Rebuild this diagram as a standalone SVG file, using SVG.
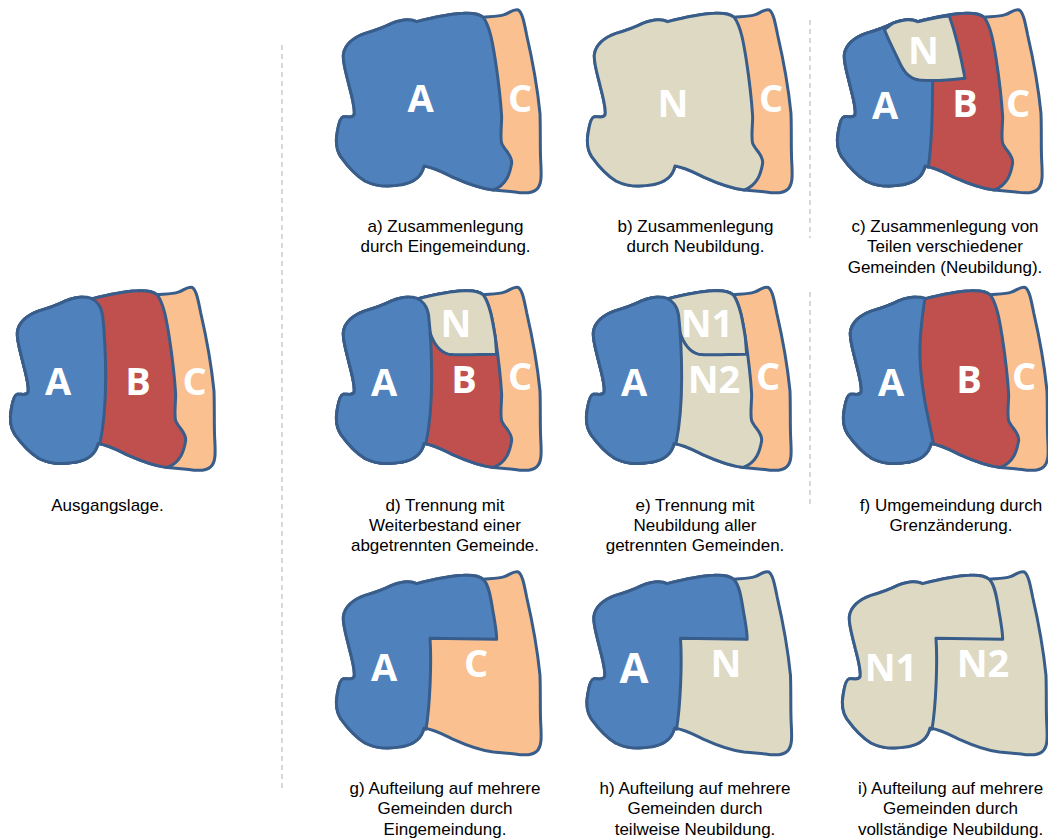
<svg xmlns="http://www.w3.org/2000/svg" xmlns:xlink="http://www.w3.org/1999/xlink" width="1048" height="838" viewBox="0 0 1048 838">
<style>
.o{stroke:#385D8A;stroke-width:9;stroke-linejoin:round;stroke-linecap:round}
.A{fill:#4F81BD}.B{fill:#C0504D}.C{fill:#FAC090}.N{fill:#DDD9C3}
.l{font-family:"Open Sans","DejaVu Sans",sans-serif;font-weight:700;font-size:38px;fill:#fff;text-anchor:middle}
.c{font-family:"Liberation Sans",Arial,sans-serif;font-size:17px;fill:#000;text-anchor:middle}
.d{stroke:#BFBFBF;stroke-width:1.2;stroke-dasharray:5 4;fill:none}
</style>
<defs>
<path id="S" d="M312 498C305 530 280 548 245 554C205 562 165 558 135 543C105 525 80 495 62 470C48 448 46 425 52 395C55 375 60 352 70 350C80 349 97 356 102 345C106 330 96 290 88 260C80 225 68 190 70 165C73 135 100 112 135 100C170 90 195 80 215 70C240 60 270 55 290 65C330 55 385 42 430 40C460 38 478 42 490 52C505 50 535 50 553 44C570 38 582 25 595 30C607 38 612 65 620 105C635 170 652 260 660 340C662 400 660 430 662 480C665 530 665 555 650 568C635 582 610 580 585 576L520 570C480 565 440 550 400 532C375 520 345 503 312 498Z"/>
<path id="L" d="M312 498C305 530 280 548 245 554C205 562 165 558 135 543C105 525 80 495 62 470C48 448 46 425 52 395C55 375 60 352 70 350C80 349 97 356 102 345C106 330 96 290 88 260C80 225 68 190 70 165C73 135 100 112 135 100C170 90 195 80 215 70C240 60 270 55 290 65C330 55 385 42 430 40C460 38 478 42 490 52C510 80 518 130 526 180C535 240 542 300 545 350C545 380 540 410 545 430C552 450 578 465 575 490C570 520 560 555 520 570C480 565 440 550 400 532C375 520 345 503 312 498Z"/>
<path id="Ablob" d="M312 498C305 530 280 548 245 554C205 562 165 558 135 543C105 525 80 495 62 470C48 448 46 425 52 395C55 375 60 352 70 350C80 349 97 356 102 345C106 330 96 290 88 260C80 225 68 190 70 165C73 135 100 112 135 100C170 90 195 80 215 70C240 60 270 55 290 62C305 68 322 85 326 115C332 170 335 240 335 300C335 370 330 440 318 498Z"/>
<path id="Ac" d="M312 498C305 530 280 548 245 554C205 562 165 558 135 543C105 525 80 495 62 470C48 448 46 425 52 395C55 375 60 352 70 350C80 349 97 356 102 345C106 330 96 290 88 260C80 225 68 190 70 165C73 135 100 112 135 100C170 90 195 80 215 70C240 60 270 55 290 65C330 55 360 48 385 48L335 245C335 340 332 430 322 502Z"/>
<path id="Nc" d="M190 88C200 84 208 74 215 70C240 60 270 55 290 65C320 58 355 50 385 48C400 90 420 170 432 235C390 240 340 245 295 240C260 235 245 210 230 175C215 145 200 115 190 88Z"/>
<path id="Nd" d="M296 63C330 55 385 42 430 40C460 38 478 42 490 52C510 80 518 130 526 180L530 230C480 230 420 235 385 230C355 222 340 195 330 165Z"/>
<path id="Af" d="M312 498C305 530 280 548 245 554C205 562 165 558 135 543C105 525 80 495 62 470C48 448 46 425 52 395C55 375 60 352 70 350C80 349 97 356 102 345C106 330 96 290 88 260C80 225 68 190 70 165C73 135 100 112 135 100C170 90 195 80 215 70C240 60 270 55 294 62C285 120 277 180 279 237C280 290 288 340 295 380C303 420 312 460 319 497Z"/>
<path id="Ag" d="M312 498C305 530 280 548 245 554C205 562 165 558 135 543C105 525 80 495 62 470C48 448 46 425 52 395C55 375 60 352 70 350C80 349 97 356 102 345C106 330 96 290 88 260C80 225 68 190 70 165C73 135 100 112 135 100C170 90 195 80 215 70C240 60 270 55 290 65C330 55 385 42 430 40C460 38 478 42 490 52C510 70 515 130 522 165C526 190 530 210 530 232L330 229C335 300 330 430 318 502Z"/>
</defs>
<g id="connectors">
<path class="d" d="M282 45V790"/>
<path class="d" d="M810 20V238"/>
<path class="d" d="M810 292V508"/>
</g>
<g id="start">
<g class="o" transform="translate(-6 277.5) scale(.3333)"><use xlink:href="#S" href="#S" class="C"/><use xlink:href="#L" href="#L" class="B"/><use xlink:href="#Ablob" href="#Ablob" class="A"/></g>
<text class="l" x="58" y="395">A</text><text class="l" x="138" y="395">B</text><text class="l" x="194.5" y="395">C</text>
<text class="c" x="107.5" y="510.5">Ausgangslage.</text>
</g>
<g id="a">
<g class="o" transform="translate(320 0) scale(.3333)"><use href="#S" class="C"/><use href="#L" class="A"/></g>
<text class="l" x="420.5" y="112">A</text><text class="l" x="520" y="112">C</text>
<text class="c" x="445.5" y="232">a) Zusammenlegung</text><text class="c" x="445.5" y="252">durch Eingemeindung.</text>
</g>
<g id="b">
<g class="o" transform="translate(571 0) scale(.3333)"><use href="#S" class="C"/><use href="#L" class="N"/></g>
<text class="l" x="673" y="117">N</text><text class="l" x="771" y="112">C</text>
<text class="c" x="695.5" y="232">b) Zusammenlegung</text><text class="c" x="695.5" y="252">durch Neubildung.</text>
</g>
<g id="c">
<g class="o" transform="translate(821 0) scale(.3333)"><use href="#S" class="C"/><use href="#L" class="B"/><use href="#Ac" class="A"/><use href="#Nc" class="N"/></g>
<text class="l" x="923.5" y="64">N</text><text class="l" x="885" y="119">A</text><text class="l" x="965" y="117">B</text><text class="l" x="1018" y="117">C</text>
<text class="c" x="945" y="232">c) Zusammenlegung von</text><text class="c" x="945" y="252">Teilen verschiedener</text><text class="c" x="945" y="273">Gemeinden (Neubildung).</text>
</g>
<g id="d">
<g class="o" transform="translate(320 277.5) scale(.3333)"><use href="#S" class="C"/><use href="#L" class="B"/><use href="#Nd" class="N"/><use href="#Ablob" class="A"/></g>
<text class="l" x="456" y="337">N</text><text class="l" x="384" y="396">A</text><text class="l" x="464" y="393">B</text><text class="l" x="520" y="390">C</text>
<text class="c" x="445" y="510.5">d) Trennung mit</text><text class="c" x="445" y="530.5">Weiterbestand einer</text><text class="c" x="445" y="551">abgetrennten Gemeinde.</text>
</g>
<g id="e">
<g class="o" transform="translate(570 277.5) scale(.3333)"><use href="#S" class="C"/><use href="#L" class="N"/><use href="#Nd" class="N"/><use href="#Ablob" class="A"/></g>
<text class="l" x="707" y="337">N1</text><text class="l" x="714" y="393">N2</text><text class="l" x="634" y="396">A</text><text class="l" x="768" y="390">C</text>
<text class="c" x="695" y="510.5">e) Trennung mit</text><text class="c" x="695" y="530.5">Neubildung aller</text><text class="c" x="695" y="551">getrennten Gemeinden.</text>
</g>
<g id="f">
<g class="o" transform="translate(827 277.5) scale(.3333)"><use href="#S" class="C"/><use href="#L" class="B"/><use href="#Af" class="A"/></g>
<text class="l" x="891" y="396">A</text><text class="l" x="969" y="393">B</text><text class="l" x="1024" y="390">C</text>
<text class="c" x="951" y="510.5">f) Umgemeindung durch</text><text class="c" x="951" y="530.5">Grenzänderung.</text>
</g>
<g id="g">
<g class="o" transform="translate(320 562) scale(.3333)"><use href="#S" class="C"/><use href="#Ag" class="A"/></g>
<text class="l" x="384" y="681">A</text><text class="l" x="476" y="677">C</text>
<text class="c" x="445" y="793.5">g) Aufteilung auf mehrere</text><text class="c" x="445" y="814">Gemeinden durch</text><text class="c" x="445" y="834.5">Eingemeindung.</text>
</g>
<g id="h">
<g class="o" transform="translate(570.5 562) scale(.3333)"><use href="#S" class="N"/><use href="#Ag" class="A"/></g>
<text class="l" x="634" y="683" style="font-size:42px">A</text><text class="l" x="726" y="677">N</text>
<text class="c" x="695" y="793.5">h) Aufteilung auf mehrere</text><text class="c" x="695" y="814">Gemeinden durch</text><text class="c" x="695" y="834.5">teilweise Neubildung.</text>
</g>
<g id="i">
<g class="o" transform="translate(826 562) scale(.3333)"><use href="#S" class="N"/><use href="#Ag" class="N"/></g>
<text class="l" x="891" y="681">N1</text><text class="l" x="983" y="677">N2</text>
<text class="c" x="950.5" y="793.5">i) Aufteilung auf mehrere</text><text class="c" x="950.5" y="814">Gemeinden durch</text><text class="c" x="950.5" y="834.5">vollständige Neubildung.</text>
</g>
</svg>
